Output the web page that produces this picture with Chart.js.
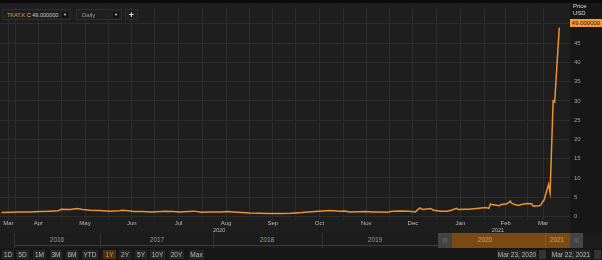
<!DOCTYPE html>
<html>
<head>
<meta charset="utf-8">
<script src="https://cdn.jsdelivr.net/npm/chart.js@4.4.1/dist/chart.umd.min.js"></script>
<style>
    body { margin: 0; width: 602px; height: 260px; overflow: hidden; position: relative; background: #171717; font-family: "Liberation Sans", Arial, sans-serif; }
    #wrap { position: absolute; left: 0; top: 0; width: 602px; height: 234px; }
    .abs { position: absolute; }
    .box { position: absolute; background: #202020; border: 1px solid #2e2e2e; box-sizing: border-box; font-size: 5.5px; color: #c8c8c8; line-height: 10px; white-space: nowrap; overflow: hidden; }
    .caret { position: absolute; top: 2px; width: 6px; height: 6px; background: #111; color: #ddd; font-size: 4px; line-height: 6px; text-align: center; }
    .btn { position: absolute; top: 250px; height: 9px; background: #262626; color: #b8b8b8; font-size: 6.5px; line-height: 9px; text-align: center; }
    .year { position: absolute; top: 236px; font-size: 6.5px; color: #9a9a9a; transform: translateX(-50%); }
    .sep { position: absolute; top: 233px; width: 1px; height: 15px; background: #333; }
    .date { position: absolute; top: 250px; height: 9px; background: #262626; color: #b8b8b8; font-size: 6.5px; line-height: 9px; text-align: center; }
    .cal { position: absolute; top: 250px; width: 7px; height: 9px; background: #333; }
</style>
</head>
<body>
<div id="wrap"><canvas id="priceChart"></canvas></div>

<!-- top toolbar -->
<div class="box" style="left:2px;top:9px;width:69px;height:11px;padding-left:4px;">
    <span style="color:#e8922b">TKAT.K</span> C 49.000000
    <div class="caret" style="left:59px;">&#9660;</div>
</div>
<div class="box" style="left:76px;top:9px;width:46px;height:11px;padding-left:5px;color:#9a9a9a;font-size:6px;">
    Daily
    <div class="caret" style="left:36px;">&#9660;</div>
</div>
<div class="box" style="left:125px;top:9px;width:13px;height:11px;text-align:center;color:#ddd;font-size:9px;font-weight:bold;">+</div>

<!-- right axis header -->
<div class="abs" style="left:573px;top:3px;font-size:6px;color:#ddd;">Price</div>
<div class="abs" style="left:573px;top:10px;font-size:6px;color:#ddd;">USD</div>
<div class="abs" style="left:570px;top:19px;width:32px;height:8px;background:#f59b33;color:#222;font-size:6px;line-height:8px;text-align:center;">49.000000</div>

<!-- navigator -->
<div class="abs" style="left:0;top:233px;width:602px;height:15px;background:#1c1c1c;"></div>
<div class="abs" style="left:14px;top:245px;width:560px;height:1px;background:#3a3a3a;"></div>
<div class="abs" style="left:452px;top:233px;width:118px;height:15px;background:#7a4a12;"></div>
<div class="sep" style="left:14px;"></div>
<div class="sep" style="left:100px;"></div>
<div class="sep" style="left:213px;"></div>
<div class="sep" style="left:322px;"></div>
<div class="sep" style="left:545px;background:#8f5a1c;"></div>
<div class="abs" style="left:438px;top:233px;width:14px;height:15px;background:#444;color:#777;font-size:6px;line-height:15px;text-align:center;">|||</div>
<div class="abs" style="left:570px;top:233px;width:13px;height:15px;background:#444;color:#777;font-size:6px;line-height:15px;text-align:center;">|||</div>
<div class="year" style="left:57px;">2016</div>
<div class="year" style="left:157px;">2017</div>
<div class="year" style="left:267px;">2018</div>
<div class="year" style="left:375px;">2019</div>
<div class="year" style="left:485px;color:#c9a27a;">2020</div>
<div class="year" style="left:557px;color:#c9a27a;">2021</div>

<!-- range buttons -->
<div id="buttons"></div>
<div class="date" style="left:497px;width:40px;">Mar 23, 2020</div>
<div class="cal" style="left:539px;"></div>
<div class="date" style="left:551px;width:40px;">Mar 22, 2021</div>
<div class="cal" style="left:594px;"></div>

<script>
// price data (USD)
var dates = [
    '2020-03-23', '2020-03-30', '2020-04-03', '2020-04-10', '2020-04-17', '2020-04-24', '2020-04-29',
    '2020-05-01', '2020-05-07', '2020-05-11', '2020-05-15', '2020-05-20', '2020-05-26',
    '2020-06-02', '2020-06-08', '2020-06-10', '2020-06-15', '2020-06-17', '2020-06-23', '2020-06-29',
    '2020-07-02', '2020-07-08', '2020-07-13', '2020-07-17', '2020-07-23', '2020-07-27', '2020-07-31',
    '2020-08-06', '2020-08-13', '2020-08-18', '2020-08-21', '2020-08-27',
    '2020-09-01', '2020-09-08', '2020-09-14', '2020-09-21', '2020-09-28',
    '2020-10-05', '2020-10-09', '2020-10-16', '2020-10-23', '2020-10-30',
    '2020-11-02', '2020-11-05', '2020-11-11', '2020-11-16', '2020-11-20', '2020-11-25', '2020-11-30',
    '2020-12-02', '2020-12-04', '2020-12-08', '2020-12-14', '2020-12-18', '2020-12-21', '2020-12-23', '2020-12-28', '2020-12-30',
    '2021-01-04', '2021-01-08', '2021-01-11', '2021-01-14', '2021-01-15', '2021-01-20', '2021-01-22', '2021-01-27',
    '2021-02-02', '2021-02-04', '2021-02-05', '2021-02-08', '2021-02-11', '2021-02-12', '2021-02-16', '2021-02-18',
    '2021-02-19', '2021-02-23', '2021-02-26',
    '2021-03-01', '2021-03-04', '2021-03-05', '2021-03-09', '2021-03-10', '2021-03-11', '2021-03-12',
    '2021-03-15', '2021-03-16', '2021-03-17', '2021-03-18', '2021-03-19', '2021-03-22'
];
var prices = [
    1.05, 1.1, 1.15, 1.2, 1.3, 1.4, 1.5,
    1.9, 1.85, 2.05, 1.8, 1.65, 1.55,
    1.4, 1.5, 1.65, 1.45, 1.3, 1.3, 1.2,
    1.25, 1.4, 1.3, 1.15, 1.3, 1.4, 1.1,
    1.15, 1.2, 1.3, 1.2, 1.05,
    0.9, 0.85, 0.8, 0.8, 0.85,
    1.05, 1.2, 1.4, 1.55, 1.4,
    1.45, 1.2, 1.25, 1.3, 1.2, 1.2, 1.1,
    1.3, 1.35, 1.45, 1.35, 1.2, 2.25, 1.8, 2.1, 1.65,
    1.4, 1.4, 1.7, 2.15, 1.8, 1.9, 1.9, 2.1,
    2.35, 2.1, 3.2, 3.0, 2.8, 3.1, 3.3, 4.0,
    3.4, 2.85, 3.2,
    3.35, 3.3, 2.7, 2.8, 3.0, 3.8, 4.2,
    8.3, 6.2, 18, 30, 29.7, 49
];
var monthNames = ['Jan', 'Feb', 'Mar', 'Apr', 'May', 'Jun', 'Jul', 'Aug', 'Sep', 'Oct', 'Nov', 'Dec'];
var priceTicks = [0, 5, 10, 15, 20, 25, 30, 35, 40, 45, 50];
var rangeButtons = ['1D', '5D', '1M', '3M', '6M', 'YTD', '1Y', '2Y', '5Y', '10Y', '20Y', 'Max'];

document.addEventListener('DOMContentLoaded', function() {
    var DAY = 86400000;
    var start = Date.parse(dates[0]);
    var lastDay = (Date.parse(dates[dates.length - 1]) - start) / DAY;
    function dayOf(s) { return (Date.parse(s) - start) / DAY; }

    var points = dates.map(function(d, i) {
        return { x: dayOf(d), y: prices[i] };
    });

    // month boundaries and label centres
    var gridTicks = [];
    var labelAt = {};
    var yearSpans = {};
    var d0 = new Date(start);
    var y = d0.getUTCFullYear(), m = d0.getUTCMonth();
    while (true) {
        var ms = (Date.UTC(y, m, 1) - start) / DAY;
        var me = (Date.UTC(y, m + 1, 1) - start) / DAY;
        if (ms > lastDay) break;
        var a = Math.max(ms, 0), b = Math.min(me, lastDay);
        if (ms > 0) gridTicks.push(ms);
        var c = Math.round((a + b) / 2 * 10) / 10;
        gridTicks.push(c);
        labelAt[c] = monthNames[m];
        if (!yearSpans[y]) yearSpans[y] = [a, b];
        yearSpans[y][1] = b;
        m++;
        if (m > 11) { m = 0; y++; }
    }

    var bgPlugin = {
        id: 'bg',
        beforeDraw: function(chart) {
            var ctx = chart.ctx, ca = chart.chartArea;
            ctx.save();
            ctx.fillStyle = '#1e1e1e';
            ctx.fillRect(0, 0, ca.right, chart.height);
            ctx.fillStyle = '#171717';
            ctx.fillRect(ca.right, 0, chart.width - ca.right, chart.height);
            ctx.fillStyle = '#0b0b0b';
            ctx.fillRect(0, 0, chart.width, 3);
            ctx.restore();
        },
        afterDraw: function(chart) {
            var ctx = chart.ctx, xs = chart.scales.x;
            ctx.save();
            ctx.fillStyle = '#bbbbbb';
            ctx.font = '5.5px "Liberation Sans", Arial, sans-serif';
            ctx.textAlign = 'center';
            ctx.textBaseline = 'middle';
            Object.keys(yearSpans).forEach(function(yr) {
                var s = yearSpans[yr];
                ctx.fillText(yr, xs.getPixelForValue((s[0] + s[1]) / 2), 230);
            });
            ctx.restore();
        }
    };

    var ctx = document.getElementById('priceChart').getContext('2d');
    var priceChart = new Chart(ctx, {
        type: 'line',
        data: {
            datasets: [{
                label: 'TKAT.K',
                data: points,
                borderColor: '#f0912c',
                borderWidth: 1.5,
                pointRadius: 0,
                tension: 0,
                fill: false
            }]
        },
        options: {
            responsive: true,
            maintainAspectRatio: false,
            animation: false,
            layout: { padding: { top: 3, left: 0, right: 0, bottom: 0 } },
            plugins: { legend: { display: false }, tooltip: { enabled: false } },
            scales: {
                x: {
                    type: 'linear',
                    min: -1,
                    max: 371,
                    afterBuildTicks: function(scale) {
                        scale.ticks = gridTicks.map(function(v) { return { value: v }; });
                    },
                    afterFit: function(scale) { scale.height = 14; },
                    ticks: {
                        autoSkip: false,
                        maxRotation: 0,
                        padding: 0,
                        color: '#bbbbbb',
                        font: { size: 6, family: '"Liberation Sans", Arial, sans-serif' },
                        callback: function(v) { return labelAt[v] || ''; }
                    },
                    grid: { color: '#2c2c2c', drawTicks: false },
                    border: { display: false }
                },
                y: {
                    position: 'right',
                    min: -0.9,
                    max: 54.2,
                    afterBuildTicks: function(scale) {
                        scale.ticks = priceTicks.map(function(v) { return { value: v }; });
                    },
                    afterFit: function(scale) { scale.width = 32; },
                    ticks: {
                        padding: 4,
                        crossAlign: 'near',
                        color: '#a0a0a0',
                        font: { size: 6, family: '"Liberation Sans", Arial, sans-serif' },
                        callback: function(v) { return v === 50 ? '' : v; }
                    },
                    grid: { color: '#2c2c2c', drawTicks: false },
                    border: { display: false }
                }
            }
        },
        plugins: [bgPlugin]
    });

    // range buttons under the navigator
    var btnX = [2, 16, 33, 50, 66, 82, 103, 119, 135, 150, 169, 189];
    var btnW = [12, 13, 13, 12, 12, 16, 13, 12, 12, 15, 15, 15];
    var holder = document.getElementById('buttons');
    rangeButtons.forEach(function(t, i) {
        var b = document.createElement('div');
        b.className = 'btn';
        b.textContent = t;
        b.style.left = btnX[i] + 'px';
        b.style.width = btnW[i] + 'px';
        if (t === '1Y') { b.style.background = '#4a3312'; b.style.color = '#e8922b'; }
        holder.appendChild(b);
    });
});
</script>
</body>
</html>
